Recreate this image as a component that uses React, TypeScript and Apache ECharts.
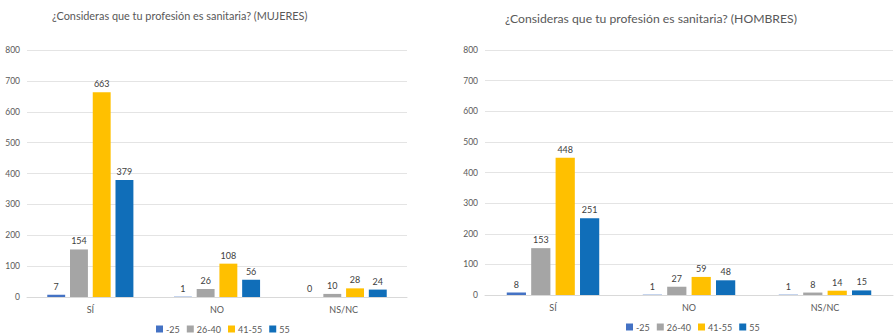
import React, { useEffect, useRef } from "react";
import * as echarts from "echarts";

const categories = ["SÍ", "NO", "NS/NC"];
const seriesNames = ["-25", "26-40", "41-55", "55"];
const colors = ["#4472C4", "#A5A5A5", "#FFC000", "#106EB9"];

const mujeres_m25 = [7, 1, 0];
const mujeres_26_40 = [154, 26, 10];
const mujeres_41_55 = [663, 108, 28];
const mujeres_55 = [379, 56, 24];

const hombres_m25 = [8, 1, 1];
const hombres_26_40 = [153, 27, 8];
const hombres_41_55 = [448, 59, 14];
const hombres_55 = [251, 48, 15];

const yTicks = { min: 0, max: 800, interval: 100 };

const titleLeft = "¿Consideras que tu profesión es sanitaria? (MUJERES)";
const titleRight = "¿Consideras que tu profesión es sanitaria? (HOMBRES)";

const FONT = "Lato";

export default function App() {
  const ref = useRef<HTMLDivElement>(null);
  useEffect(() => {
    document.body.style.margin = "0";
    const chart = echarts.init(ref.current!, null, { renderer: "svg" });
    const mujeres = [mujeres_m25, mujeres_26_40, mujeres_41_55, mujeres_55];
    const hombres = [hombres_m25, hombres_26_40, hombres_41_55, hombres_55];
    const mkSeries = (data: number[][], idx: number) =>
      data.map((d, i) => ({
        type: "bar",
        name: seriesNames[i],
        xAxisIndex: idx,
        yAxisIndex: idx,
        data: d,
        itemStyle: { color: colors[i] },
        barCategoryGap: "32%",
        barGap: "27%",
        label: {
          show: true,
          position: "top",
          distance: 4,
          fontSize: 9,
          color: "#404040",
          fontFamily: FONT,
        },
      }));
    const xAxis = (gi: number) => ({
      type: "category",
      gridIndex: gi,
      data: categories,
      axisLine: { lineStyle: { color: "#D9D9D9" } },
      axisTick: { show: false },
      axisLabel: { fontSize: 9, color: "#595959", margin: 8, fontFamily: FONT },
    });
    const yAxis = (gi: number) => ({
      type: "value",
      gridIndex: gi,
      ...yTicks,
      axisLine: { show: false },
      axisTick: { show: false },
      splitLine: { lineStyle: { color: "#E4E4E4" } },
      axisLabel: { fontSize: 8.5, color: "#595959", margin: 7, fontFamily: FONT },
    });
    const legendCommon = {
      data: seriesNames,
      itemWidth: 7,
      itemHeight: 7,
      itemGap: 7,
      icon: "rect",
      textStyle: { fontSize: 9, lineHeight: 10, color: "#595959", fontFamily: FONT, padding: [0, 0, 0, -2] },
      selectedMode: false,
      padding: 2,
    };
    chart.setOption({
      animation: false,
      backgroundColor: "#ffffff",
      title: [
        {
          text: titleLeft,
          left: 47,
          top: 5,
          textStyle: { fontSize: 10.9, fontWeight: "normal", color: "#595959", fontFamily: FONT },
        },
        {
          text: titleRight,
          left: 500,
          top: 7,
          textStyle: { fontSize: 12.2, fontWeight: "normal", color: "#595959", fontFamily: FONT },
        },
      ],
      legend: [
        { ...legendCommon, left: 154, top: 322 },
        { ...legendCommon, left: 624, top: 320 },
      ],
      grid: [
        { left: 27, right: 487, top: 50, bottom: 38 },
        { left: 485, right: 1, top: 50, bottom: 40 },
      ],
      xAxis: [xAxis(0), xAxis(1)],
      yAxis: [yAxis(0), yAxis(1)],
      series: [...mkSeries(mujeres, 0), ...mkSeries(hombres, 1)],
    });
    return () => chart.dispose();
  }, []);
  return <div ref={ref} style={{ width: 894, height: 335 }} />;
}
